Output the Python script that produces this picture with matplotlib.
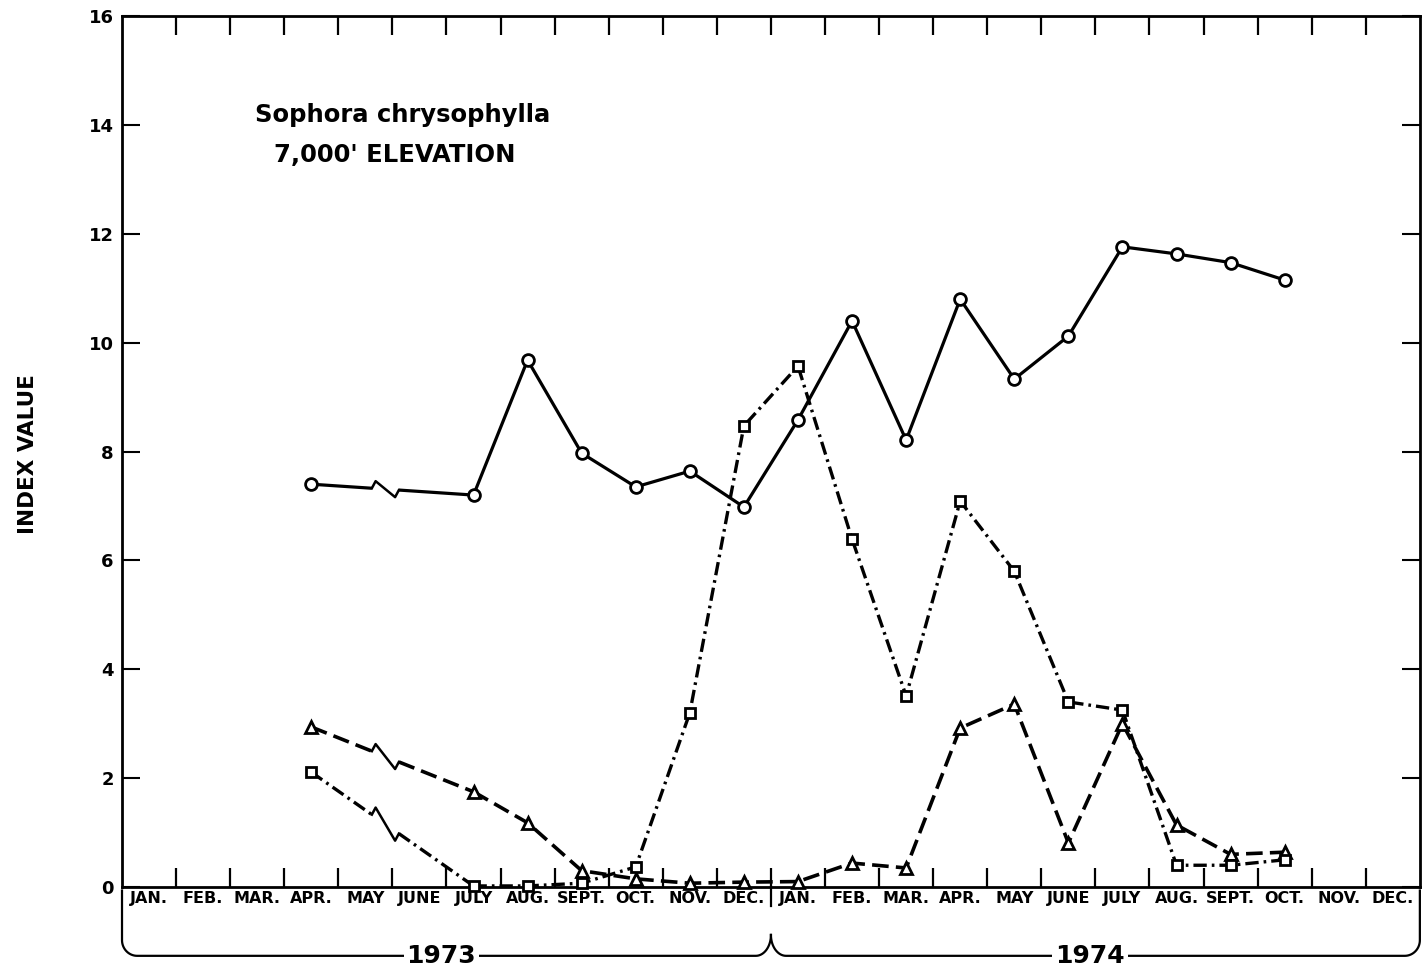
import numpy as np
import matplotlib.pyplot as plt

# month slots: Jan 1973 = 0 ... Dec 1974 = 23, points sit at slot centres
month_names = ['JAN.', 'FEB.', 'MAR.', 'APR.', 'MAY', 'JUNE', 'JULY', 'AUG.',
               'SEPT.', 'OCT.', 'NOV.', 'DEC.']
month_labels = month_names + month_names
years = ['1973', '1974']

# sampled months (no samples May/June 1973)
sample_idx = [3, 6, 7, 8, 9, 10, 11, 12, 13, 14, 15, 16, 17, 18, 19, 20, 21]

circle_vals = [7.40, 7.20, 9.68, 7.97, 7.35, 7.64, 6.98, 8.58, 10.40, 8.21,
               10.80, 9.33, 10.12, 11.76, 11.63, 11.47, 11.15]
square_vals = [2.11, 0.02, 0.02, 0.07, 0.37, 3.20, 8.47, 9.57, 6.39, 3.51,
               7.09, 5.80, 3.40, 3.25, 0.40, 0.40, 0.50]
triangle_vals = [2.94, 1.75, 1.18, 0.30, 0.15, 0.07, 0.09, 0.10, 0.44, 0.35,
                 2.92, 3.36, 0.81, 3.00, 1.14, 0.60, 0.64]

title_lines = ['Sophora chrysophylla', "7,000' ELEVATION"]
ylabel = 'INDEX VALUE'

plt.rcParams['font.family'] = ['DejaVu Sans']
plt.rcParams['font.weight'] = 'bold'

fig = plt.figure(figsize=(14.27, 9.77), dpi=100)
ax = fig.add_axes([0.0855, 0.0921, 0.9095, 0.8915])

xs = np.array(sample_idx) + 0.5


def draw_series(vals, marker, ms, lw, ls):
    vals = np.array(vals, dtype=float)
    # break between first and second sample (missing months)
    bx0, bx1 = 4.62, 5.12
    y0 = np.interp(bx0, xs[:2], vals[:2])
    y1 = np.interp(bx1, xs[:2], vals[:2])
    ax.plot([xs[0], bx0], [vals[0], y0], color='black', lw=lw, ls=ls,
            solid_capstyle='butt', zorder=2)
    ax.plot([bx1, xs[1]], [y1, vals[1]], color='black', lw=lw, ls=ls,
            solid_capstyle='butt', zorder=2)
    zx = [bx0, bx0 + 0.07, bx1 - 0.07, bx1]
    zy = [y0, y0 + 0.13, y1 - 0.13, y1]
    ax.plot(zx, zy, color='black', lw=1.8, zorder=2)
    ax.plot(xs[1:], vals[1:], color='black', lw=lw, ls=ls, zorder=2)
    ax.plot(xs, vals, ls='none', marker=marker, ms=ms, mfc='white',
            mec='black', mew=2.0, zorder=3, clip_on=False)


draw_series(circle_vals, 'o', 8.5, 2.3, '-')
draw_series(triangle_vals, '^', 8, 2.6, (0, (4.6, 2.0)))
draw_series(square_vals, 's', 7.5, 2.4, (0, (4.0, 1.5, 0.8, 1.5)))

ax.set_xlim(0, 24)
ax.set_ylim(0, 16)

# month boundaries as ticks, month names as minor tick labels
ax.set_xticks(np.arange(1, 24))
ax.set_xticklabels([])
ax.set_xticks(np.arange(24) + 0.5, minor=True)
ax.set_xticklabels(month_labels, minor=True, fontsize=11.5)
ax.tick_params(axis='x', which='major', direction='in', length=14, width=1.6,
               top=True, bottom=True)
ax.tick_params(axis='x', which='minor', length=0, pad=3)

ax.set_yticks(np.arange(0, 17, 2))
ax.set_yticklabels([str(v) for v in range(0, 17, 2)], fontsize=13)
ax.tick_params(axis='y', direction='in', length=13, width=1.5, pad=6,
               left=True, right=True)

for s in ax.spines.values():
    s.set_linewidth(2.0)

ax.text(0.216, 0.886, title_lines[0], transform=ax.transAxes, ha='center',
        va='center', fontsize=17.5)
ax.text(0.210, 0.840, title_lines[1], transform=ax.transAxes, ha='center',
        va='center', fontsize=17.5)

fig.text(0.0196, 0.535, ylabel, rotation=90, ha='center', va='center',
         fontsize=15.5)

# year braces under the month row
tr = ax.get_xaxis_transform()
yh = -0.079
yc = -0.055
rx = 0.28
ry = 0.018
t = np.linspace(0, np.pi / 2, 20)

# 1973 brace
bx = np.concatenate([[0, 0], rx - rx * np.cos(t),
                     [12 - rx], 12 - rx + rx * np.sin(t)])
by = np.concatenate([[-0.004, yh + ry], yh + ry - ry * np.sin(t),
                     [yh], yh + (yc - yh) * (1 - np.cos(t))])
ax.plot(bx, by, transform=tr, color='black', lw=1.6, clip_on=False)

# 1974 brace
bx = np.concatenate([12 + rx - rx * np.cos(t), [24 - rx],
                     24 - rx + rx * np.sin(t), [24]])
by = np.concatenate([yc - (yc - yh) * np.sin(t), [yh],
                     yh + ry - ry * np.cos(t), [-0.004]])
ax.plot(bx, by, transform=tr, color='black', lw=1.6, clip_on=False)

# divider between the two years
ax.plot([12, 12], [0, -0.022], transform=tr, color='black', lw=1.6,
        clip_on=False)

for i, yr in enumerate(years):
    ax.text(5.9 + 12 * i, yh, yr, transform=tr, ha='center', va='center',
            fontsize=18,
            bbox=dict(facecolor='white', edgecolor='none', pad=2))

fig.savefig('out.png', dpi=100)
